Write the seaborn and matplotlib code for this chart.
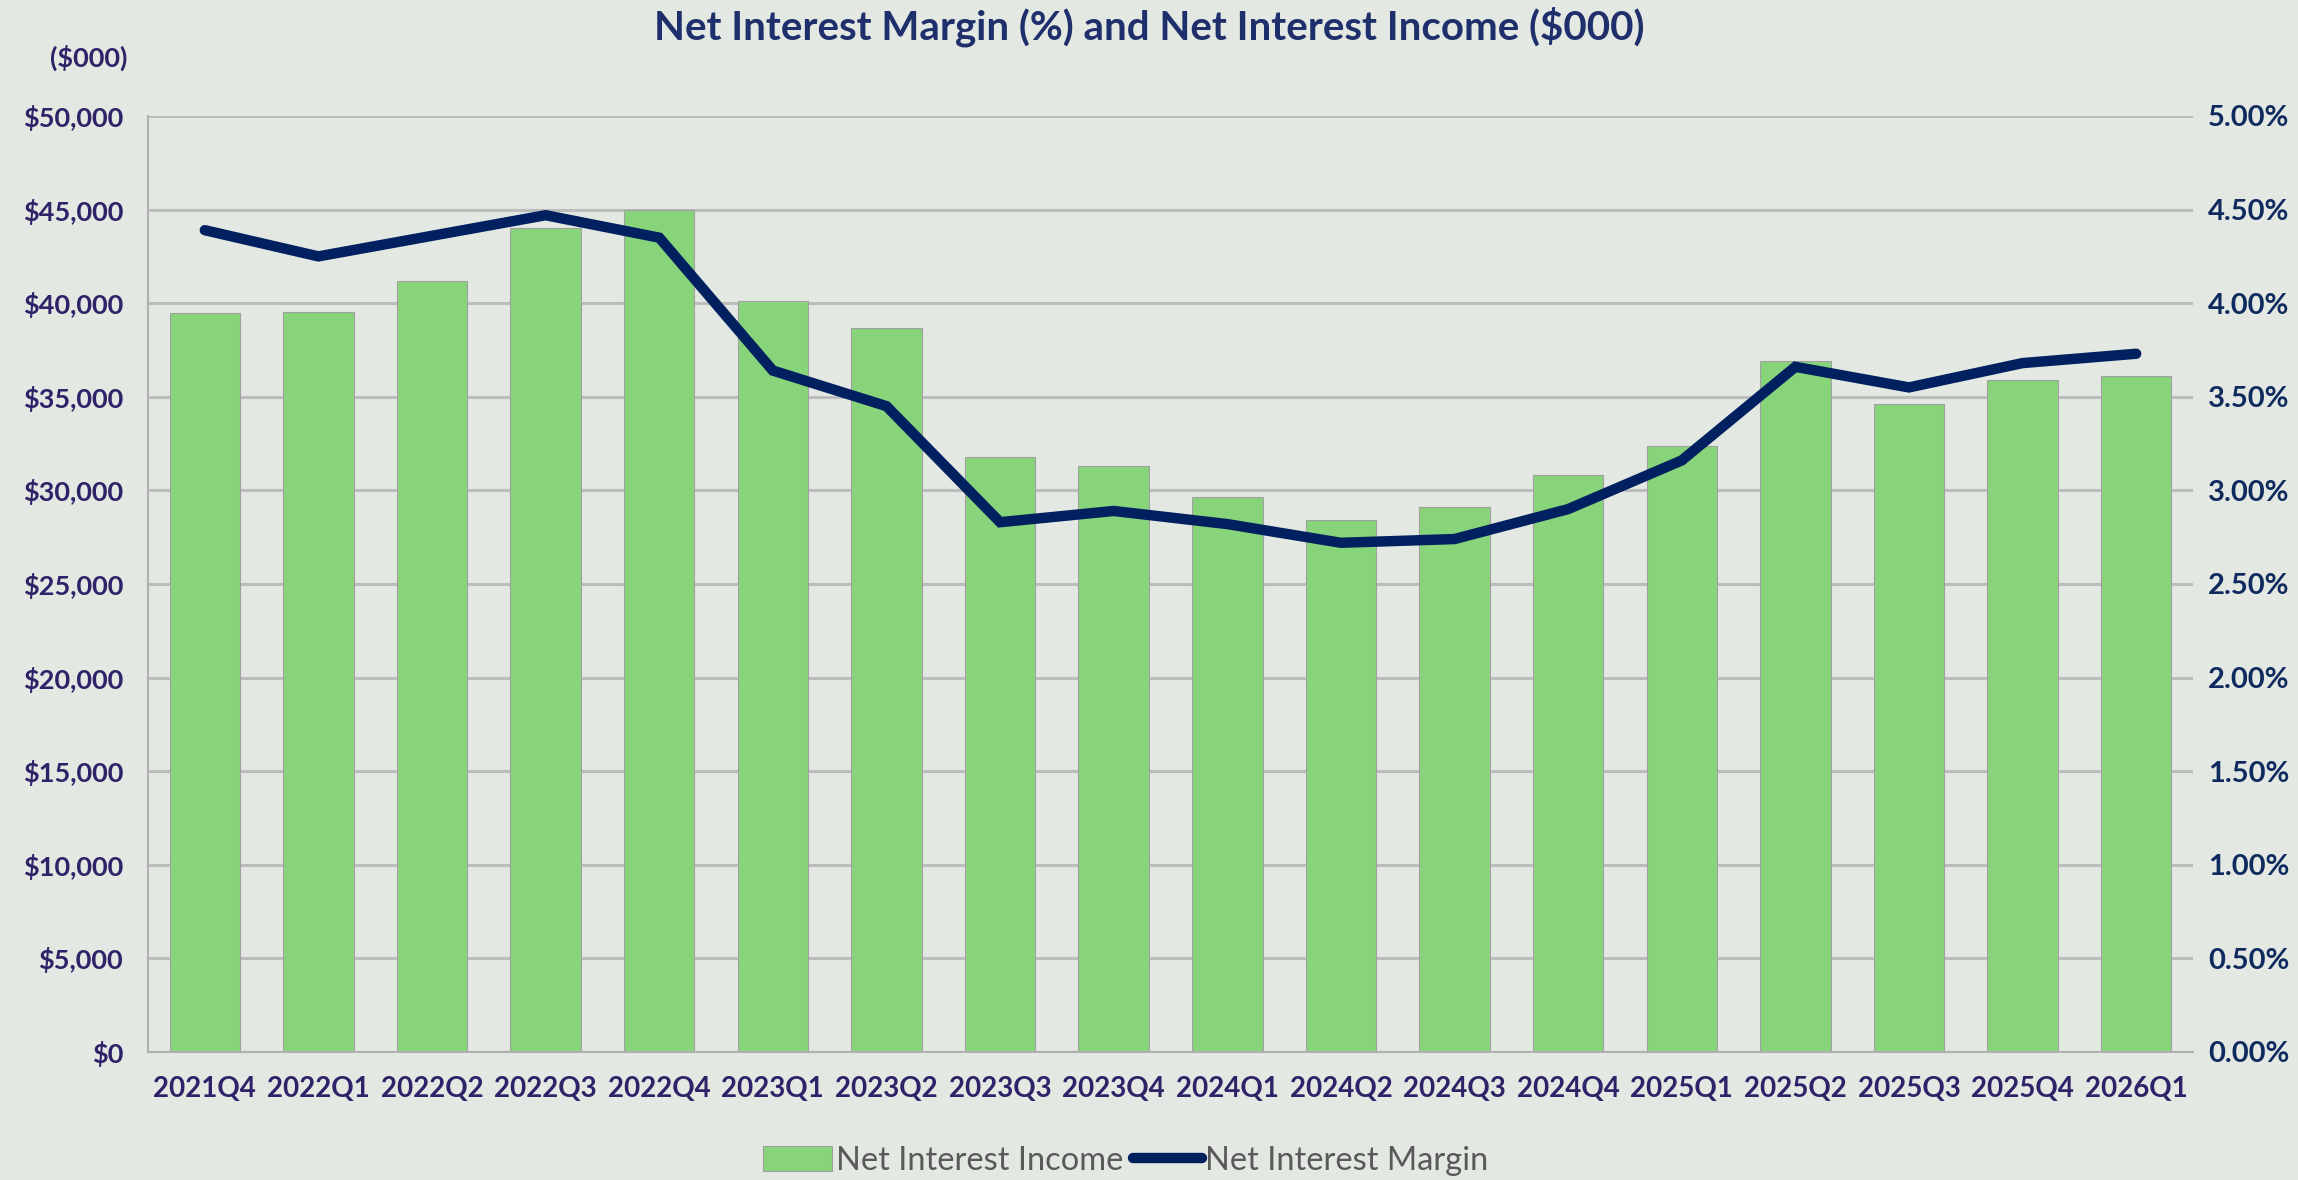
import matplotlib
matplotlib.use("Agg")
import matplotlib.pyplot as plt
import matplotlib.ticker as mticker
from matplotlib.patches import Patch
from matplotlib.lines import Line2D
import seaborn as sns
import pandas as pd

quarters = ["2021Q4", "2022Q1", "2022Q2", "2022Q3", "2022Q4", "2023Q1", "2023Q2",
            "2023Q3", "2023Q4", "2024Q1", "2024Q2", "2024Q3", "2024Q4", "2025Q1",
            "2025Q2", "2025Q3", "2025Q4", "2026Q1"]
net_interest_income = [39460, 39510, 41190, 44000, 44980, 40100, 38680,
                       31770, 31300, 29630, 28400, 29100, 30840, 32360,
                       36910, 34630, 35910, 36130]
net_interest_margin = [4.39, 4.25, 4.36, 4.47, 4.35, 3.64, 3.45,
                       2.83, 2.89, 2.82, 2.72, 2.74, 2.90, 3.16,
                       3.66, 3.55, 3.68, 3.73]
left_ticks = [0, 5000, 10000, 15000, 20000, 25000, 30000, 35000, 40000, 45000, 50000]
right_ticks = [0.0, 0.5, 1.0, 1.5, 2.0, 2.5, 3.0, 3.5, 4.0, 4.5, 5.0]

BG = "#E3E8E2"
BAR = "#88D47A"
LINE = "#002060"
LEFT_TXT = "#2E2268"
RIGHT_TXT = "#0F2A5E"

sns.set_theme(style="white")
plt.rcParams["font.family"] = ["Lato", "DejaVu Sans"]

df = pd.DataFrame({"quarter": quarters, "nii": net_interest_income, "nim": net_interest_margin})

fig = plt.figure(figsize=(22.98, 11.80), dpi=100, facecolor=BG)
ax = fig.add_axes([0.0644, 0.1085, 0.8899, 0.7932])
ax.set_facecolor(BG)

sns.barplot(data=df, x="quarter", y="nii", ax=ax, color=BAR, saturation=1,
            width=0.62, edgecolor="#A0A0A0", linewidth=0.8, zorder=2)
ax.set_ylim(0, 50000)
ax.set_yticks(left_ticks)
ax.yaxis.set_major_formatter(mticker.FuncFormatter(lambda v, p: f"${v:,.0f}"))
ax.grid(axis="y", color="#BDBDBD", linewidth=2.2, zorder=0)
ax.grid(axis="x", visible=False)
ax.set_axisbelow(True)
ax.set_xlabel("")
ax.set_ylabel("")
for s in ["top", "right"]:
    ax.spines[s].set_visible(False)
for s in ["left", "bottom"]:
    ax.spines[s].set_color("#B0B0B0")
    ax.spines[s].set_linewidth(1.5)
ax.tick_params(axis="y", length=0, pad=18, labelsize=19.5, labelcolor=LEFT_TXT)
ax.tick_params(axis="x", length=0, pad=17, labelsize=20, labelcolor=LEFT_TXT)
for lab in ax.get_yticklabels() + ax.get_xticklabels():
    lab.set_fontweight("bold")

ax2 = ax.twinx()
sns.lineplot(data=df, x="quarter", y="nim", ax=ax2, color=LINE, linewidth=7.5,
             sort=False, solid_capstyle="round", solid_joinstyle="miter", zorder=5)
ax2.set_ylim(0, 5)
ax2.set_yticks(right_ticks)
ax2.yaxis.set_major_formatter(mticker.FuncFormatter(lambda v, p: f"{v:.2f}%"))
ax2.set_ylabel("")
ax2.grid(False)
for s in ["top", "right", "left", "bottom"]:
    ax2.spines[s].set_visible(False)
ax2.tick_params(axis="y", length=0, pad=11, labelsize=21, labelcolor=RIGHT_TXT)
for lab in ax2.get_yticklabels():
    lab.set_fontweight("bold")
ax.set_xlim(-0.5, len(quarters) - 0.5)

fig.text(0.5, 0.977, "Net Interest Margin (%) and Net Interest Income ($000)",
         ha="center", va="center", fontsize=29, fontweight="bold", color="#1F2F6B")
fig.text(0.0385, 0.951, "($000)", ha="center", va="center", fontsize=19.5,
         fontweight="bold", color=LEFT_TXT)

handles = [Patch(facecolor=BAR, edgecolor="#A0A0A0", linewidth=0.8),
           Line2D([0], [0], color=LINE, linewidth=7.5, solid_capstyle="round")]
fig.legend(handles, ["Net Interest Income", "Net Interest Margin"],
           loc="center", bbox_to_anchor=(0.49, 0.016), ncol=2, frameon=False,
           fontsize=23.5, labelcolor="#595959", handlelength=2.1, handleheight=0.8,
           handletextpad=0.12, columnspacing=0.3)

fig.savefig("out.png", dpi=100, facecolor=BG)
